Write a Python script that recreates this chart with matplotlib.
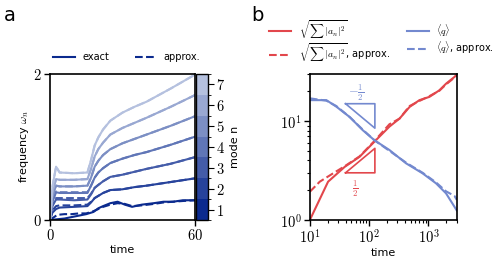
import numpy as np
import matplotlib
matplotlib.use("Agg")
import matplotlib.pyplot as plt
from matplotlib.colors import LinearSegmentedColormap, BoundaryNorm
from matplotlib.ticker import FuncFormatter, LogLocator
import matplotlib.cm as cm

plt.rcParams['mathtext.fontset'] = 'cm'
plt.rcParams['font.family'] = 'DejaVu Sans'

# ---------------- panel a data ----------------
t_modes = [0, 1, 2.5, 4, 10, 15.5, 17, 18.5, 20, 22, 25, 30, 35, 40, 50, 60]
omega_exact = {
    2: [0, 0.10, 0.15, 0.17, 0.18, 0.19, 0.24, 0.30, 0.33, 0.37, 0.41, 0.42, 0.45, 0.47, 0.52, 0.57],
    3: [0, 0.19, 0.28, 0.28, 0.27, 0.28, 0.35, 0.44, 0.48, 0.53, 0.59, 0.62, 0.66, 0.70, 0.77, 0.86],
    4: [0, 0.25, 0.38, 0.37, 0.37, 0.37, 0.47, 0.58, 0.65, 0.71, 0.78, 0.84, 0.89, 0.93, 1.03, 1.14],
    5: [0, 0.32, 0.47, 0.46, 0.46, 0.47, 0.58, 0.73, 0.81, 0.89, 0.97, 1.05, 1.11, 1.17, 1.29, 1.42],
    6: [0, 0.38, 0.56, 0.55, 0.55, 0.56, 0.70, 0.87, 0.97, 1.06, 1.17, 1.26, 1.33, 1.40, 1.55, 1.71],
    7: [0, 0.45, 0.73, 0.65, 0.64, 0.65, 0.82, 1.02, 1.13, 1.24, 1.36, 1.47, 1.55, 1.62, 1.80, 1.99],
}
omega_approx = {
    2: [0, 0.13, 0.19, 0.20, 0.20, 0.21, 0.25, 0.30, 0.33, 0.37, 0.41, 0.42, 0.45, 0.47, 0.52, 0.57],
    3: [0, 0.21, 0.30, 0.30, 0.30, 0.30, 0.36, 0.44, 0.48, 0.53, 0.59, 0.62, 0.66, 0.70, 0.77, 0.86],
    4: [0, 0.26, 0.39, 0.38, 0.38, 0.38, 0.47, 0.58, 0.65, 0.71, 0.78, 0.84, 0.89, 0.93, 1.03, 1.14],
    5: [0, 0.32, 0.47, 0.46, 0.46, 0.47, 0.58, 0.73, 0.81, 0.89, 0.97, 1.05, 1.11, 1.17, 1.29, 1.42],
    6: [0, 0.38, 0.56, 0.55, 0.55, 0.56, 0.70, 0.87, 0.97, 1.06, 1.17, 1.26, 1.33, 1.40, 1.55, 1.71],
    7: [0, 0.45, 0.73, 0.65, 0.64, 0.65, 0.82, 1.02, 1.13, 1.24, 1.36, 1.47, 1.55, 1.62, 1.80, 1.99],
}
t_mode1 = [0, 3, 6, 9, 12, 15, 18, 20, 22, 25, 28, 31, 34, 38, 43, 47, 51, 55, 60]
omega1_exact = [0, 0.01, 0.02, 0.04, 0.06, 0.08, 0.11, 0.16, 0.19, 0.23, 0.25, 0.21, 0.18, 0.21, 0.23, 0.25, 0.25, 0.27, 0.27]
omega1_approx = [0, 0.07, 0.08, 0.08, 0.09, 0.09, 0.12, 0.15, 0.18, 0.21, 0.23, 0.22, 0.19, 0.20, 0.22, 0.24, 0.25, 0.26, 0.27]
modes = [1, 2, 3, 4, 5, 6, 7]

# ---------------- panel b data ----------------
t_amp = [10, 20.3, 38.8, 69, 123, 220, 325, 480, 705, 1040, 1530, 1980, 2750, 3000]
amp_exact = [1.0, 2.44, 3.45, 4.36, 6.2, 8.8, 10.6, 13.9, 16.3, 17.6, 20.5, 23.9, 28.0, 29.5]
t_amp_ap = [10, 14.7, 24.6, 38.8, 69, 123, 220, 325, 480, 705, 1040, 1530, 1980, 2750, 3000]
amp_approx = [1.93, 2.44, 2.96, 3.5, 4.4, 6.3, 9.3, 10.6, 14.2, 16.0, 17.9, 20.3, 23.5, 27.6, 29.0]
t_q = [10, 19, 28, 47, 78, 123, 220, 420, 800, 1340, 1980, 2750, 3000]
q_exact = [16.3, 16.3, 14.0, 11.0, 8.1, 6.4, 5.1, 3.74, 2.96, 2.35, 1.86, 1.36, 1.25]
q_approx = [17.0, 16.1, 14.2, 11.0, 8.2, 6.4, 5.0, 3.8, 3.0, 2.4, 1.95, 1.75, 1.6]
tri_t = [40, 125]

navy = '#0b2a8e'
light = '#b5c1df'
red = '#e2474c'
blue = '#7389cf'
TICK_FS = 10.5

fig = plt.figure(figsize=(5.03, 2.66), dpi=100)

# ---------------- panel a ----------------
axa = fig.add_axes([0.0994, 0.173, 0.288, 0.549])
cmap = LinearSegmentedColormap.from_list('m', [navy, light], N=7)
norm = BoundaryNorm(np.arange(0.5, 8.5, 1), cmap.N)
for n in modes:
    c = cmap(norm(n))
    if n == 1:
        axa.plot(t_mode1, omega1_exact, color=c, lw=1.5)
        axa.plot(t_mode1, omega1_approx, color=c, lw=1.5, ls='--')
    else:
        axa.plot(t_modes, omega_exact[n], color=c, lw=1.5)
        axa.plot(t_modes, omega_approx[n], color=c, lw=1.5, ls='--')
axa.set_xlim(0, 60)
axa.set_ylim(0, 2)
axa.set_xticks([0, 60])
axa.set_yticks([0, 2])
fmt = FuncFormatter(lambda v, p: r'$%d$' % v)
axa.xaxis.set_major_formatter(fmt)
axa.yaxis.set_major_formatter(fmt)
axa.tick_params(labelsize=TICK_FS, length=4, width=1, pad=2)
axa.set_xlabel('time', fontsize=8, labelpad=1)
axa.set_ylabel(r'frequency $\omega_n$', fontsize=8, labelpad=1)
for s in axa.spines.values():
    s.set_linewidth(1.2)
h1, = axa.plot([], [], color=navy, lw=1.5, label='exact')
h2, = axa.plot([], [], color=navy, lw=1.5, ls='--', label='approx.')
axa.legend(handles=[h1, h2], ncol=2, frameon=False, fontsize=7,
           loc='lower center', bbox_to_anchor=(0.53, 1.02), columnspacing=2.6,
           handlelength=2.2)

cax = fig.add_axes([0.3897, 0.173, 0.0239, 0.549])
sm = cm.ScalarMappable(cmap=cmap, norm=norm)
cb = fig.colorbar(sm, cax=cax, boundaries=np.arange(0.5, 8.5, 1), ticks=modes)
cb.ax.set_yticklabels([r'$%d$' % m for m in modes])
cb.ax.tick_params(labelsize=TICK_FS, length=4, pad=2)
cb.outline.set_linewidth(1.0)
cb.set_label('mode n', fontsize=8, labelpad=3)

# ---------------- panel b ----------------
axb = fig.add_axes([0.616, 0.173, 0.292, 0.549])
axb.plot(t_amp, amp_exact, color=red, lw=1.5, label=r'$\sqrt{\sum\,|a_n|^2}$')
axb.plot(t_amp_ap, amp_approx, color=red, lw=1.5, ls='--', label=r'$\sqrt{\sum\,|a_n|^2}$, approx.')
axb.plot(t_q, q_exact, color=blue, lw=1.5, label=r'$\langle q\rangle$')
axb.plot(t_q, q_approx, color=blue, lw=1.5, ls='--', label=r'$\langle q\rangle$, approx.')
axb.set_xscale('log')
axb.set_yscale('log')
axb.set_xlim(10, 3000)
axb.set_ylim(1, 30)
# slope triangles
qb = 15.0
qe = qb * (tri_t[0] / tri_t[1]) ** 0.5
axb.plot([tri_t[0], tri_t[1], tri_t[1], tri_t[0]], [qb, qb, qe, qb], color=blue, lw=1.2)
rb = 3.0
re = rb * (tri_t[1] / tri_t[0]) ** 0.5
axb.plot([tri_t[0], tri_t[1], tri_t[1], tri_t[0]], [rb, rb, re, rb], color=red, lw=1.2)
axb.text(61, 19.5, r'$-\frac{1}{2}$', color=blue, fontsize=9, ha='center', va='center')
axb.text(59, 2.05, r'$\frac{1}{2}$', color=red, fontsize=9, ha='center', va='center')
axb.set_xticks([10, 100, 1000])
axb.set_yticks([1, 10])
logfmt = FuncFormatter(lambda v, p: r'$10^{%d}$' % int(round(np.log10(v))))
axb.xaxis.set_major_formatter(logfmt)
axb.yaxis.set_major_formatter(logfmt)
axb.yaxis.set_minor_locator(LogLocator(base=10, subs=np.arange(2, 10)))
axb.yaxis.set_minor_formatter(plt.NullFormatter())
axb.xaxis.set_minor_formatter(plt.NullFormatter())
axb.tick_params(which='major', labelsize=TICK_FS, length=4, width=1, pad=2)
axb.tick_params(which='minor', length=2, width=0.8)
axb.set_xlabel('time', fontsize=8, labelpad=1)
for s in axb.spines.values():
    s.set_linewidth(1.2)
axb.legend(ncol=2, frameon=False, fontsize=7, loc='lower center',
           bbox_to_anchor=(0.49, 1.04), columnspacing=1.8, handlelength=2.2,
           labelspacing=0.1, borderaxespad=0, handletextpad=0.8)

fig.text(0.008, 0.94, 'a', fontsize=14, va='center')
fig.text(0.5, 0.94, 'b', fontsize=14, va='center')

fig.savefig('out.png', dpi=100)
